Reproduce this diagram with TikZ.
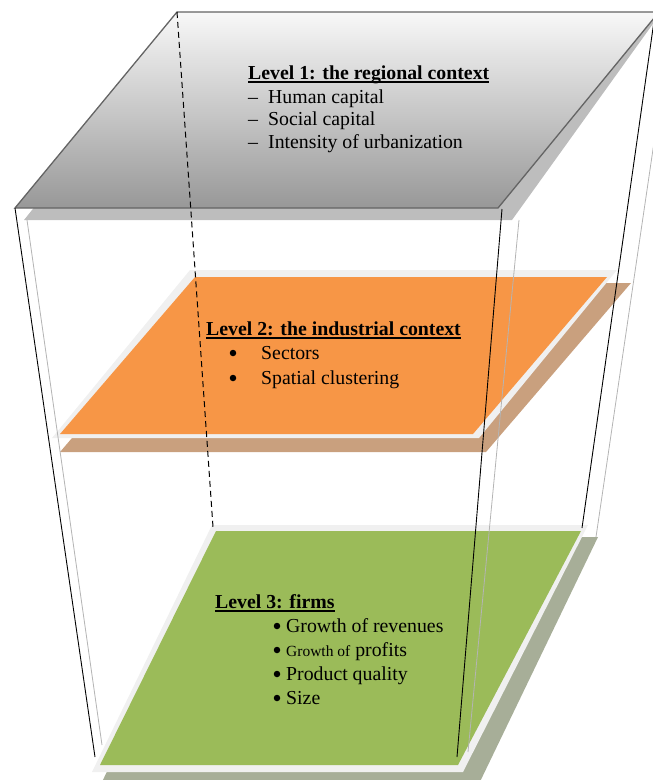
\documentclass[tikz,border=0pt]{standalone}
\usepackage{fontspec}
\setmainfont{Liberation Serif}
\definecolor{orangeplane}{HTML}{F79646}
\definecolor{greenplane}{HTML}{9BBB59}
\definecolor{halo}{HTML}{F0F0F0}
\definecolor{topshadow}{HTML}{BDBDBD}
\definecolor{orangeshadow}{HTML}{C9A07E}
\definecolor{greenshadow}{HTML}{A7AE98}
\definecolor{toplight}{HTML}{F8F8F8}
\definecolor{topdark}{HTML}{989898}
\definecolor{topborder}{HTML}{646464}
\definecolor{thinline}{HTML}{B4B4B4}
\begin{document}
\begin{tikzpicture}[x=1pt,y=-1pt,
  boxedge/.style={black, line width=0.9pt},
  ghostedge/.style={thinline, line width=0.8pt},
  hiddenedge/.style={black, line width=1pt, dash pattern=on 6pt off 4pt},
  levelfont/.style={font=\fontsize{19.8}{23}\selectfont, inner sep=0pt, anchor=base west},
  leveltitle/.style={levelfont, font=\fontsize{19.8}{23}\selectfont\bfseries},
  bulletmark/.style={circle, fill=black, inner sep=0pt, minimum size=6.5pt},
  uline/.style={line width=1.4pt},
]
\useasboundingbox (0,0) rectangle (653,780);

% ---- corners
\coordinate (T1) at (177,12);
\coordinate (T2) at (659,12);
\coordinate (T3) at (498,208);
\coordinate (T4) at (15,208);

% ---- level 3 (green)
\fill[greenshadow] (222,537) -- (598,537) -- (476,790) -- (98,790) -- cycle;
\fill[halo] (212,525) -- (588,525) -- (463,772) -- (92,772) -- cycle;
\fill[greenplane] (216,531) -- (581,531) -- (458,765) -- (100,765) -- cycle;

% ---- level 2 (orange)
\fill[orangeshadow] (205,283) -- (631,283) -- (486,452) -- (60,452) -- cycle;
\fill[halo] (190,270) -- (617,270) -- (479,438) -- (52,438) -- cycle;
\fill[orangeplane] (195,277) -- (607,277) -- (473,434) -- (60,434) -- cycle;

% ---- level 1 (gray)
\fill[topshadow] (185,20) -- (660,14) -- (512,220) -- (24,220) -- cycle;
\shade[top color=toplight, bottom color=topdark] (T1) -- (T2) -- (T3) -- (T4) -- cycle;
\draw[topborder, line width=1.3pt, line join=miter] (T1) -- (T2) -- (T3) -- (T4) -- cycle;

% ---- box edges
\coordinate (B1) at (213,527);
\coordinate (B2) at (582,528);
\coordinate (B3) at (457,757);
\coordinate (B4) at (95,757);
\draw[ghostedge] (27,220) -- (102,745);
\draw[ghostedge] (519,220) -- (468,752);
\draw[ghostedge] (672,20) -- (596,537);
\draw[boxedge] (T4) -- (B4);
\draw[boxedge] (502,209) -- (B3);
\draw[boxedge] (655,14) -- (B2);
\draw[hiddenedge] (T1) -- (B1);

% ---- texts level 1
\node[leveltitle] (t1) at (248,79) {Level 1: the regional context};
\draw[uline] ([yshift=-3pt]t1.base west) -- ([yshift=-3pt]t1.base east);
\node[levelfont] (d11) at (248,103) {–};
\node[levelfont] (a11) at (268,103) {Human capital};
\node[levelfont] (d12) at (248,125) {–};
\node[levelfont] (a12) at (268,125) {Social capital};
\node[levelfont] (d13) at (248,148) {–};
\node[levelfont] (a13) at (268,148) {Intensity of urbanization};

% ---- texts level 2
\node[leveltitle] (t2) at (206,335) {Level 2: the industrial context};
\draw[uline] ([yshift=-3pt]t2.base west) -- ([yshift=-3pt]t2.base east);
\node[bulletmark] (b21) at (233,353) {};
\node[levelfont] (a21) at (261,359) {Sectors};
\node[bulletmark] (b22) at (233,378) {};
\node[levelfont] (a22) at (261,384) {Spatial clustering};

% ---- texts level 3
\node[leveltitle] (t3) at (215,608) {Level 3: firms};
\draw[uline] ([yshift=-3pt]t3.base west) -- ([yshift=-3pt]t3.base east);
\node[bulletmark] (b31) at (277,626) {};
\node[levelfont] (a31) at (286,632) {Growth of revenues};
\node[bulletmark] (b32) at (277,650) {};
\node[levelfont] (a32) at (286,656) {{\fontsize{15.5}{18}\selectfont Growth of} profits};
\node[bulletmark] (b33) at (277,674) {};
\node[levelfont] (a33) at (286,680) {Product quality};
\node[bulletmark] (b34) at (277,698) {};
\node[levelfont] (a34) at (286,704) {Size};
\end{tikzpicture}
\end{document}
